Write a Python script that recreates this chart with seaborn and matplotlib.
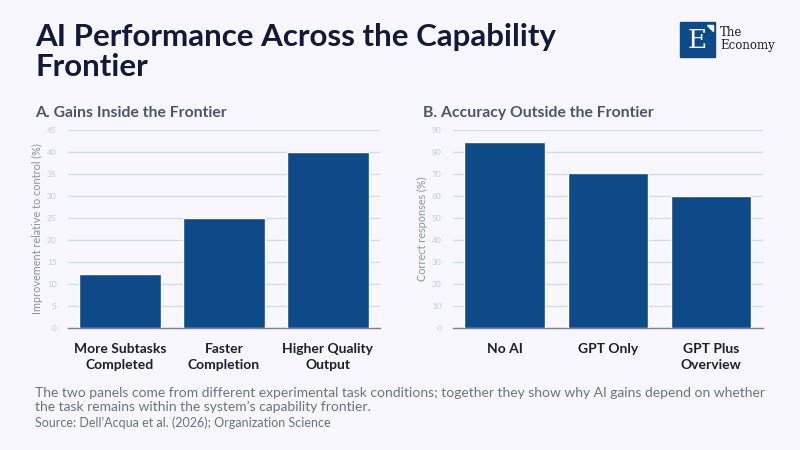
import matplotlib
matplotlib.use("Agg")
import matplotlib.pyplot as plt
import matplotlib.patches as mpatches
import pandas as pd
import seaborn as sns

# panel A data
gain_labels = ["More Subtasks\nCompleted", "Faster\nCompletion", "Higher Quality\nOutput"]
gain_values = [12.3, 25.0, 40.0]

# panel B data
acc_labels = ["No AI", "GPT Only", "GPT Plus\nOverview"]
acc_values = [84.5, 70.5, 60.0]

BG = "#f7f7fd"
BAR = "#0d4a87"
GRID = "#d3dbe8"
TICK = "#c3cbdb"
YLAB = "#8a93a8"

sns.set_theme(style="white")
plt.rcParams["font.family"] = ["Lato", "DejaVu Sans"]

fig = plt.figure(figsize=(8, 4.5), dpi=100)
fig.patch.set_facecolor(BG)


def draw_panel(ax, labels, values, ymax, step, ylabel):
    df = pd.DataFrame({"cat": labels, "val": values})
    sns.barplot(data=df, x="cat", y="val", color=BAR, width=0.78, saturation=1, ax=ax, zorder=3)
    ax.set_facecolor(BG)
    ax.set_ylim(0, ymax)
    ax.set_yticks(range(0, ymax + 1, step))
    ax.grid(axis="y", color=GRID, linewidth=0.9, zorder=0)
    ax.set_axisbelow(True)
    for s in ["top", "right", "left"]:
        ax.spines[s].set_visible(False)
    ax.spines["bottom"].set_color("#7a8299")
    ax.spines["bottom"].set_linewidth(1.0)
    ax.tick_params(axis="y", labelsize=6, colors=TICK, length=0, pad=8)
    ax.tick_params(axis="x", labelsize=10, length=0, pad=11)
    for t in ax.get_xticklabels():
        t.set_fontweight("bold")
        t.set_color("#1c1f2e")
        t.set_linespacing(1.35)
    ax.set_xlabel("")
    ax.set_ylabel(ylabel, fontsize=7.8, color=YLAB, labelpad=3)


ax1 = fig.add_axes([0.085, 0.271, 0.39, 0.44])
draw_panel(ax1, gain_labels, gain_values, 45, 5, "Improvement relative to control (%)")

ax2 = fig.add_axes([0.566, 0.271, 0.3875, 0.44])
draw_panel(ax2, acc_labels, acc_values, 90, 10, "Correct responses (%)")

fig.text(35 / 800, 1 - 113 / 450, "A. Gains Inside the Frontier", fontsize=11.3,
         fontweight="bold", color="#4a5570", va="center")
fig.text(423 / 800, 1 - 113 / 450, "B. Accuracy Outside the Frontier", fontsize=11.3,
         fontweight="bold", color="#4a5570", va="center")

fig.text(35 / 800, 1 - 23 / 450, "AI Performance Across the Capability\nFrontier", fontsize=22.5,
         fontweight="bold", color="#111a3a", va="top", linespacing=1.08)

fig.text(35 / 800, 1 - 413 / 450,
         "The two panels come from different experimental task conditions; together they show why AI gains depend on whether\n"
         "the task remains within the system\u2019s capability frontier.",
         fontsize=10, color="#6b7388", va="bottom", linespacing=1.15)
fig.text(35 / 800, 1 - 429 / 450, "Source: Dell\u2019Acqua et al. (2026); Organization Science",
         fontsize=9, color="#6b7388", va="bottom")

# logo
fig.patches.append(mpatches.Rectangle((680 / 800, 1 - 57 / 450), 35 / 800, 35 / 450,
                                      transform=fig.transFigure, color="#0d4a87"))
fig.patches.append(mpatches.Polygon([(707 / 800, 1 - 25 / 450), (713 / 800, 1 - 25 / 450),
                                     (713 / 800, 1 - 31 / 450)], closed=True,
                                    transform=fig.transFigure, color="white"))
fig.text(697 / 800, 1 - 41 / 450, "E", fontsize=19, color="white", ha="center",
         va="center", family="DejaVu Serif")
fig.text(720 / 800, 1 - 39.5 / 450, "The\nEconomy", fontsize=8.5, color="#222222",
         ha="left", va="center", family="DejaVu Serif", linespacing=1.0)

fig.savefig("out.png", dpi=100, facecolor=BG)
